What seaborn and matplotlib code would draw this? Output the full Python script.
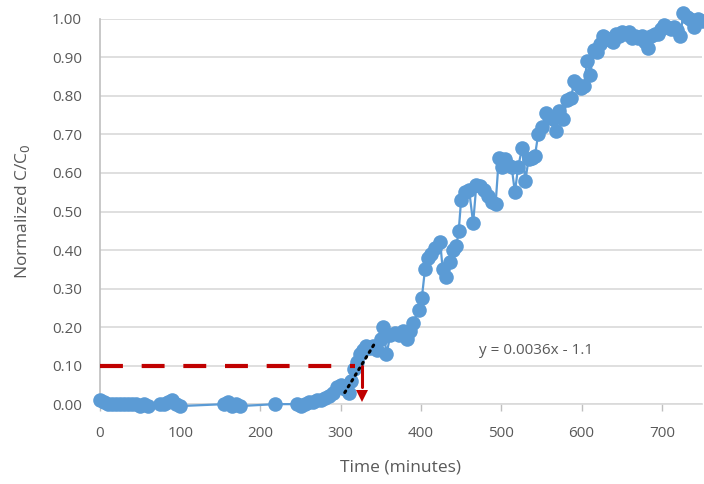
import matplotlib
matplotlib.use("Agg")
import matplotlib.pyplot as plt
import seaborn as sns
import pandas as pd

# ---- data ----
time_min = [0, 5, 10, 15, 20, 25, 30, 35, 40, 45, 50, 55, 60,
            75, 80, 85, 90, 95, 100,
            155, 160, 165, 170, 175,
            218,
            245, 250, 255, 260, 265, 270, 275, 280, 285, 290, 295, 300, 305, 310, 313, 316,
            320, 324, 328, 332, 336, 340, 345, 350, 353, 357, 362, 367, 372, 377, 382, 386,
            390, 397, 401, 405, 409, 413, 418, 424, 427, 431, 436, 440, 444, 447, 450, 455,
            460, 465, 469, 473, 478, 483, 488, 493, 497, 501, 505, 509, 513, 517, 521, 526,
            530, 534, 538, 542, 546, 551, 556, 560, 564, 568, 572, 577, 582, 587, 591, 595,
            599, 603, 607, 611, 615, 619, 623, 627, 631, 635, 639, 643, 647, 651, 655, 659,
            663, 667, 671, 675, 679, 683, 687, 691, 695, 699, 703, 707, 711, 715, 719, 723,
            727, 731, 735, 740, 745, 750]
norm_c = [0.01, 0.005, 0.0, 0.0, 0.0, 0.0, 0.0, 0.0, 0.0, 0.0, -0.005, 0.0, -0.005,
          0.0, 0.0, 0.005, 0.01, 0.0, -0.005,
          0.0, 0.005, -0.005, 0.0, -0.005,
          0.0,
          0.0, -0.005, 0.0, 0.005, 0.005, 0.01, 0.01, 0.015, 0.02, 0.03, 0.045, 0.05, 0.04, 0.03, 0.06, 0.09,
          0.11, 0.13, 0.14, 0.15, 0.145, 0.15, 0.14, 0.17, 0.20, 0.13, 0.18, 0.185, 0.18, 0.19, 0.17, 0.19,
          0.21, 0.245, 0.275, 0.35, 0.38, 0.39, 0.405, 0.42, 0.35, 0.33, 0.37, 0.40, 0.41, 0.45, 0.53, 0.55,
          0.555, 0.47, 0.57, 0.565, 0.555, 0.54, 0.525, 0.52, 0.64, 0.615, 0.635, 0.62, 0.615, 0.55, 0.615, 0.665,
          0.58, 0.635, 0.64, 0.645, 0.70, 0.72, 0.755, 0.745, 0.74, 0.71, 0.76, 0.74, 0.79, 0.795, 0.84, 0.83,
          0.82, 0.825, 0.89, 0.855, 0.92, 0.915, 0.935, 0.955, 0.95, 0.945, 0.94, 0.96, 0.955, 0.965, 0.96, 0.965,
          0.95, 0.955, 0.95, 0.955, 0.94, 0.925, 0.955, 0.96, 0.96, 0.975, 0.985, 0.98, 0.975, 0.98, 0.97, 0.955,
          1.015, 1.005, 1.0, 0.98, 1.0, 0.995]

threshold_x = [0, 318]
threshold_y = [0.10, 0.10]
drop_x = [326, 326]
drop_y = [0.10, 0.045]
arrow_x = [326]
arrow_y = [0.022]
trend_x = [305, 343]
trend_y = [0.03, 0.16]
equation = "y = 0.0036x - 1.1"
eq_pos = (472, 0.14)

x_ticks = [0, 100, 200, 300, 400, 500, 600, 700]
y_ticks = [0.0, 0.1, 0.2, 0.3, 0.4, 0.5, 0.6, 0.7, 0.8, 0.9, 1.0]
y_ticklabels = ["0.00", "0.10", "0.20", "0.30", "0.40", "0.50", "0.60", "0.70", "0.80", "0.90", "1.00"]

df = pd.DataFrame({"Time": time_min, "C": norm_c})

sns.set_theme(style="white")
plt.rcParams["font.family"] = ["Open Sans", "DejaVu Sans"]

fig = plt.figure(figsize=(7.04, 4.84), dpi=100)
ax = fig.add_axes([0.142, 0.165, 0.855, 0.796])

blue = "#5B9BD5"
txt = "#595959"

sns.lineplot(data=df, x="Time", y="C", ax=ax, sort=False, estimator=None,
             color=blue, linewidth=1.6, marker="o", markersize=10.5,
             markeredgewidth=0, clip_on=False, zorder=3)

ax.plot(threshold_x, threshold_y, color="#C00000", linewidth=3,
        dashes=(5.5, 4.5), zorder=4, solid_capstyle="butt", dash_capstyle="butt")
ax.plot(drop_x, drop_y, color="#C00000", linewidth=2.2, zorder=4)
ax.plot(arrow_x, arrow_y, marker="v", color="#C00000", markersize=9,
        markeredgewidth=0, linestyle="none", zorder=5)
ax.plot(trend_x, trend_y, color="black", linewidth=2.2,
        linestyle=(0, (0.6, 1.6)), zorder=6, dash_capstyle="round")

ax.text(eq_pos[0], eq_pos[1], equation, fontsize=11, color=txt, va="center", ha="left")

ax.set_xlim(0, 750)
ax.set_ylim(0, 1.0)
ax.set_xticks(x_ticks)
ax.set_yticks(y_ticks)
ax.set_yticklabels(y_ticklabels)
ax.yaxis.grid(True, color="#D9D9D9", linewidth=1.2)
ax.xaxis.grid(False)
ax.set_axisbelow(True)

for s in ["top", "right"]:
    ax.spines[s].set_visible(False)
ax.spines["left"].set_color("#BFBFBF")
ax.spines["left"].set_linewidth(1.2)
ax.spines["bottom"].set_color("#D9D9D9")
ax.spines["bottom"].set_linewidth(1.2)

ax.tick_params(axis="y", length=0, pad=13, labelsize=11, labelcolor=txt)
ax.tick_params(axis="x", bottom=True, length=5, width=1, color="#BFBFBF",
               pad=11, labelsize=11, labelcolor=txt, direction="out")

ax.set_xlabel("Time (minutes)", fontsize=12.5, color=txt, labelpad=13)
ax.set_ylabel("Normalized C/C$_0$", fontsize=12.5, color=txt, labelpad=14)

fig.savefig("out.png", dpi=100)
